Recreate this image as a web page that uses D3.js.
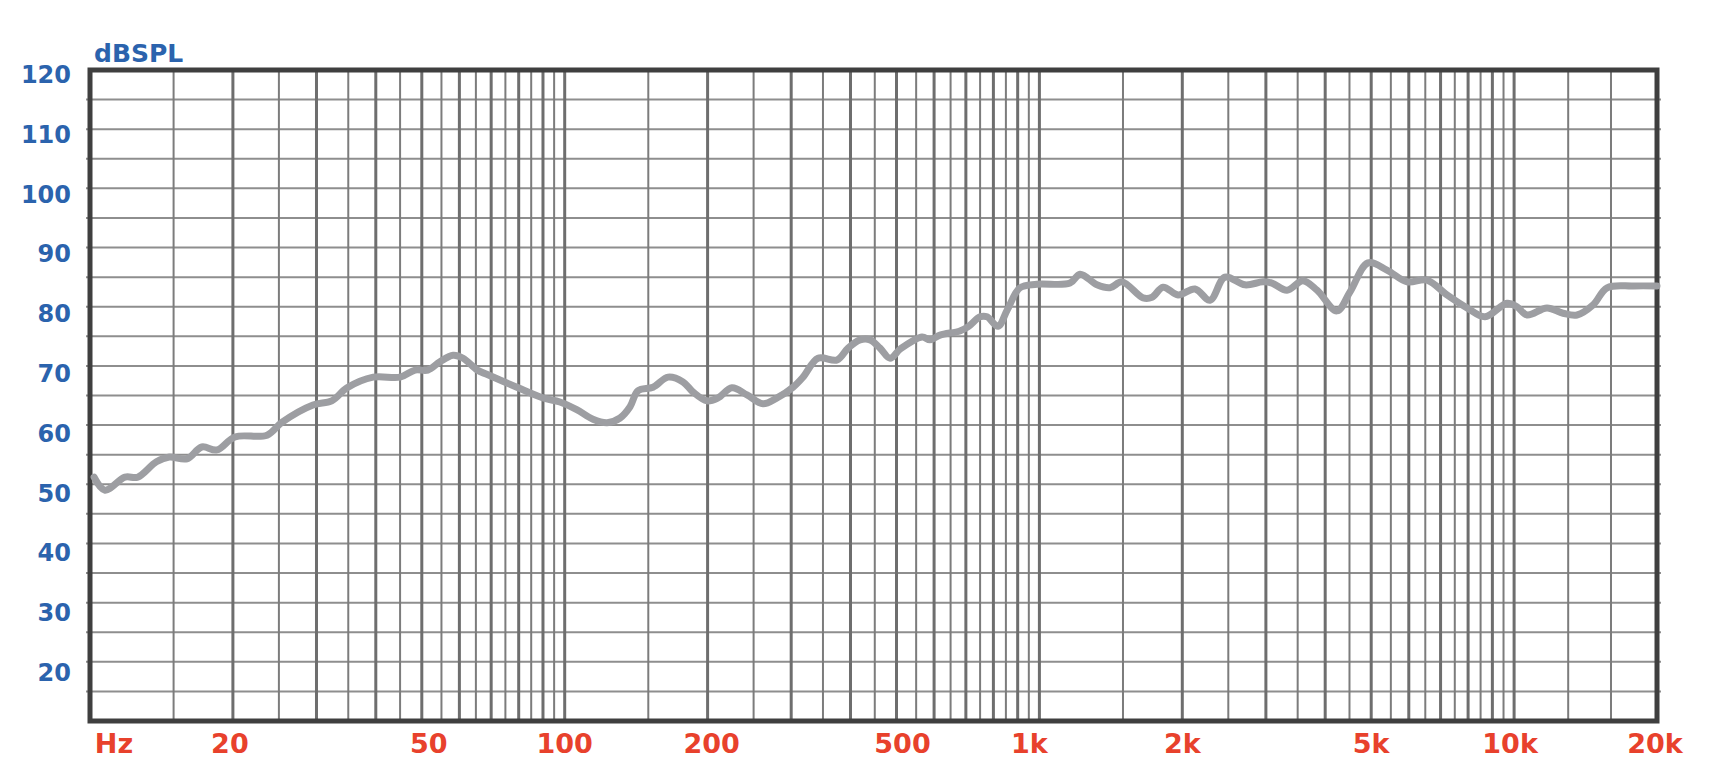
<!DOCTYPE html>
<html><head><meta charset="utf-8">
<script src="https://cdn.jsdelivr.net/npm/d3@7/dist/d3.min.js"></script>
<style>html,body{margin:0;padding:0;background:#fff;} svg{display:block;}</style>
</head><body><svg id="chart" width="1730" height="784"></svg>
<script>
// Frequency response data (Hz, dB SPL)
const freqs = [10.2,10.75,11.85,12.6,13.8,14.7,16.0,17.2,18.5,20.2,23.6,25.4,29.5,32.3,34.8,39.5,45.0,48.4,51.5,54.6,58.2,61.1,65.4,68.9,79.3,90.0,97.7,106,114.7,122.8,130.8,137.3,142.7,153.5,165.1,177.5,186.3,199.4,210.4,225.1,242.1,261.6,280.1,302.7,317.7,341.7,374.7,395.3,419,439.7,461.6,484.5,510,566,588,617.5,680,707,750,775.6,818,855,910,988,1160,1218,1322,1408,1493,1653,1727,1822,1959,2127,2288,2460,2711,2958,3090,3323,3592,3844,4236,4512,4923,5397,5948,6554,7221,7959,8683,9660,10140,10650,11730,12680,13570,14670,15700,17810,20000];
const spl = [51.2,49.0,51.2,51.2,53.8,54.6,54.3,56.3,55.8,58.0,58.3,60.5,63.4,64.1,66.3,68.1,68.1,69.3,69.3,70.7,71.8,71.3,69.3,68.5,66.4,64.6,63.9,62.6,61.0,60.4,61.2,63.1,65.8,66.4,68.1,67.3,65.6,64.1,64.6,66.3,65.1,63.6,64.6,66.4,68.1,71.3,71.0,73.0,74.4,74.4,73.0,71.3,72.9,74.9,74.4,75.2,75.9,76.6,78.3,78.3,76.7,79.4,83.2,83.8,84.0,85.5,83.7,83.2,84.2,81.5,81.6,83.3,82.0,83.0,81.1,85.0,83.7,84.2,84.0,82.8,84.4,82.8,79.3,82.5,87.4,86.2,84.2,84.5,82.0,79.8,78.3,80.6,80.0,78.6,79.8,78.9,78.6,80.3,83.2,83.5,83.5];

// Axis ticks and labels
const yTickValues = [20,30,40,50,60,70,80,90,100,110,120];
const xTickValues = [10,20,50,100,200,500,1000,2000,5000,10000,20000];
const xTickLabels = ["Hz","20","50","100","200","500","1k","2k","5k","10k","20k"];
const xLabelNudge = [0,-3,7,0,4,6,-10,0,0,-4,-2];

// Grid lines
const gridMajorFreqs = [20,30,40,50,60,70,80,90,100,200,300,400,500,600,700,800,900,1000,2000,3000,4000,5000,6000,7000,8000,9000,10000];
const gridMinorFreqs = [15,25,35,45,55,65,75,85,95,150,250,350,450,550,650,750,850,950,1500,2500,3500,4500,5500,6500,7500,8500,9500,13000,16000];
const gridDb = [15,20,25,30,35,40,45,50,55,60,65,70,75,80,85,90,95,100,105,110,115];

const svg = d3.select("#chart");
const x = d3.scaleLog().domain([10,20000]).range([90,1657]);
const y = d3.scaleLinear().domain([10,120]).range([721,70]);
const yLabel = d3.scaleLinear().domain([20,120]).range([681,83]);

const font = "'DejaVu Sans', sans-serif";

// horizontal grid
svg.append("g").selectAll("line").data(gridDb).join("line")
  .attr("x1", x(10)-4).attr("x2", x(20000)+4)
  .attr("y1", d=>y(d)).attr("y2", d=>y(d))
  .attr("stroke", "#8e8e8e").attr("stroke-width", 2);

// vertical grid minor
svg.append("g").selectAll("line").data(gridMinorFreqs).join("line")
  .attr("x1", d=>x(d)).attr("x2", d=>x(d))
  .attr("y1", y(120)).attr("y2", y(10))
  .attr("stroke", "#7c7c7c").attr("stroke-width", 2);
// vertical grid major
svg.append("g").selectAll("line").data(gridMajorFreqs).join("line")
  .attr("x1", d=>x(d)).attr("x2", d=>x(d))
  .attr("y1", y(120)).attr("y2", y(10))
  .attr("stroke", "#6e6e6e").attr("stroke-width", 3);

// border
svg.append("rect")
  .attr("x", x(10)).attr("y", y(120))
  .attr("width", x(20000)-x(10)).attr("height", y(10)-y(120))
  .attr("fill", "none").attr("stroke", "#3f3f3f").attr("stroke-width", 5);

// curve
const pts = freqs.map((f,i)=>[f, spl[i]]);
const line = d3.line().x(d=>x(d[0])).y(d=>y(d[1])).curve(d3.curveCatmullRom.alpha(0.5));
svg.append("path").datum(pts)
  .attr("d", line)
  .attr("fill", "none").attr("stroke", "#9d9ea2").attr("stroke-width", 7)
  .attr("stroke-linecap", "round").attr("stroke-linejoin", "round");

// y labels
svg.append("g").selectAll("text").data(yTickValues).join("text")
  .attr("x", 71).attr("y", d=>yLabel(d))
  .attr("text-anchor", "end")
  .attr("font-family", font).attr("font-weight", "bold").attr("font-size", 24)
  .attr("fill", "#2b63ad").text(d=>d);

svg.append("text").attr("x", 94).attr("y", 62)
  .attr("font-family", font).attr("font-weight", "bold").attr("font-size", 25)
  .attr("fill", "#2b63ad").text("dBSPL");

// x labels
svg.append("g").selectAll("text").data(xTickValues).join("text")
  .attr("x", (d,i)=> (i===0 ? 114 : x(d)) + xLabelNudge[i]).attr("y", 753)
  .attr("text-anchor", "middle")
  .attr("font-family", font).attr("font-weight", "bold").attr("font-size", 27)
  .attr("fill", "#e8412c").text((d,i)=>xTickLabels[i]);
</script>
</body></html>
